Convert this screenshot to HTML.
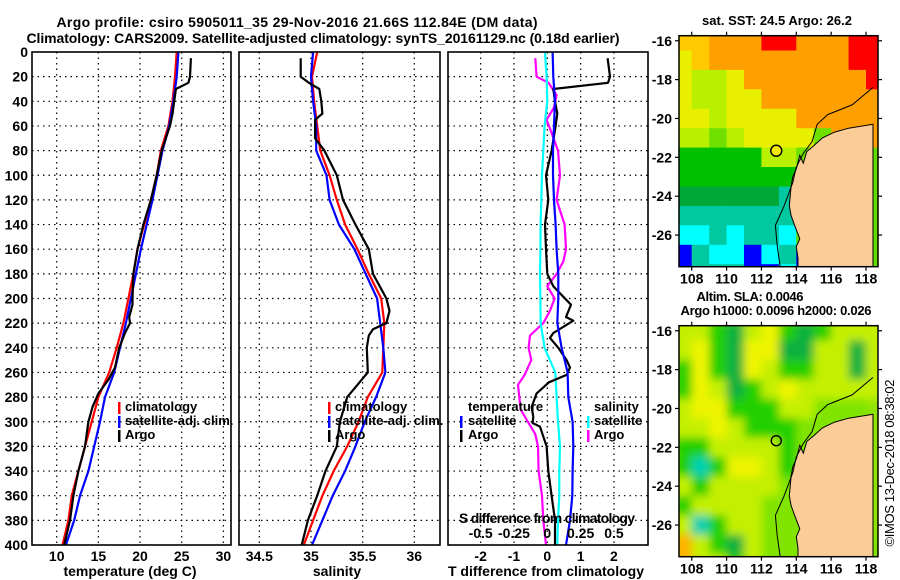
<!DOCTYPE html>
<html><head><meta charset="utf-8"><style>
html,body{margin:0;padding:0;background:#fff;}
svg{display:block;font-family:"Liberation Sans",sans-serif;font-weight:bold;}
</style></head><body>
<svg id="fig" width="900" height="580" viewBox="0 0 900 580" xmlns="http://www.w3.org/2000/svg">
<defs>
<clipPath id="c1"><rect x="679" y="35.7" width="199" height="231.3"/></clipPath>
<clipPath id="c2"><rect x="679" y="325.7" width="199" height="231"/></clipPath>
<filter id="bl" x="-5%" y="-5%" width="110%" height="110%"><feGaussianBlur stdDeviation="4.5"/></filter>
</defs>
<text x="297" y="27" text-anchor="middle" font-size="14" textLength="481">Argo profile: csiro 5905011_35 29-Nov-2016 21.66S 112.84E (DM data)</text>
<text x="323" y="43" text-anchor="middle" font-size="14" textLength="593">Climatology: CARS2009. Satellite-adjusted climatology: synTS_20161129.nc (0.18d earlier)</text>
<g id="grids"></g>
<g id="series"></g>
<g id="frames"></g>
<g id="labels" font-size="14"></g>
<g id="maps"></g>
</svg>
<script>
// ---- data ----
const depthLevels = [0,20,40,60,80,100,120,140,160,180,200,220,240,260,280,300,320,340,360,380,400];
const tClim = [24.4,24.2,23.9,23.4,22.5,22.0,21.3,20.5,19.7,19.2,18.6,18.0,17.2,16.3,15.0,14.2,13.4,12.6,11.8,11.4,10.7];
const tSat  = [24.6,24.4,24.0,23.5,22.7,22.1,21.5,20.8,20.1,19.5,18.9,18.3,17.6,16.9,15.8,15.2,14.5,13.8,12.8,12.1,11.1];
const tArgoDepth = [5,20,25,30,40,50,60,80,100,120,140,160,180,200,205,215,220,228,240,256,266,277,288,300,320,340,360,380,400];
const tArgo = [26.1,26.0,25.8,24.3,24.1,23.9,23.6,22.6,22.0,21.3,20.4,19.7,19.2,19.1,19.1,18.7,18.8,18.2,17.5,17.0,16.2,15.0,14.3,13.8,13.4,12.6,12.0,11.6,10.9];
const sClim = [35.06,35.01,35.03,35.06,35.09,35.18,35.25,35.33,35.45,35.56,35.68,35.71,35.70,35.69,35.55,35.46,35.35,35.22,35.11,35.02,34.93];
const sSat  = [35.02,35.00,35.02,35.05,35.05,35.15,35.18,35.27,35.42,35.53,35.64,35.67,35.70,35.72,35.63,35.52,35.43,35.33,35.21,35.11,35.01];
const sArgoDepth = [5,20,25,30,40,50,55,70,80,100,120,140,160,180,200,210,220,225,230,240,260,270,280,300,320,340,360,380,400];
const sArgo = [34.90,34.90,34.98,35.08,35.10,35.11,35.04,35.04,35.13,35.25,35.31,35.43,35.56,35.60,35.73,35.76,35.73,35.60,35.56,35.54,35.55,35.45,35.35,35.28,35.25,35.14,35.06,34.97,34.91];
const dTsat = [0.16,0.18,0.23,0.20,0.17,0.17,0.20,0.25,0.28,0.33,0.33,0.30,0.43,0.61,0.63,0.76,0.78,0.76,0.75,0.68,0.56];
const dSsat = [-0.017,-0.005,0,-0.02,-0.03,-0.04,-0.045,-0.05,-0.052,-0.055,-0.052,-0.05,-0.02,0.06,0.07,0.08,0.095,0.09,0.09,0.08,0.075];
const dTargoDepth = [5,20,25,30,40,50,60,80,100,120,140,160,180,190,200,205,215,218,228,232,240,250,256,262,268,277,288,296,301,304,320,340,360,380,400];
const dTargo = [1.81,1.88,1.82,0.18,0.23,0.30,0.25,0.13,-0.04,0.03,-0.07,-0.04,0.0,0.18,0.53,0.71,0.56,0.78,0.18,0.08,0.33,0.58,0.68,0.58,0.05,-0.32,-0.47,-0.42,-0.44,-0.22,-0.02,0.03,0.13,0.23,0.23];
const dSargoDepth = [5,20,25,35,45,55,65,80,100,120,140,160,170,180,190,200,210,220,230,240,250,262,270,290,301,310,320,340,360,380,400];
const dSargo = [-0.09,-0.08,0.01,0.07,0.05,-0.005,0.03,0.08,0.095,0.07,0.13,0.14,0.12,0.07,0,0.055,0.02,-0.03,-0.13,-0.14,-0.12,-0.17,-0.22,-0.2,-0.14,-0.09,-0.07,-0.065,-0.04,-0.03,-0.01];
const depthTicks = [0,20,40,60,80,100,120,140,160,180,200,220,240,260,280,300,320,340,360,380,400];
const tTicks = [10,15,20,25,30];
const sTicks = [34.5,35,35.5,36];
const dTTicks = [-2,-1,0,1,2];
const dSTicks = ["-0.5","-0.25","0","0.25","0.5"];
const lonTicks = [108,110,112,114,116,118];
const latTicks = [-16,-18,-20,-22,-24,-26];
const argoLon = 112.85, argoLat = -21.66;
// map colour grids (rows lat -15.5..; cols lon 107..118, 1 degree)
const sstGrid = [
"yyOOORROOORR","YyOOOOOOOORR","YggYOOOOOOOR","YggYYOOOOOOO","YYgYYYYOOOOO",
"gglgYYYYlOOO","GGGGGggllLLL","GGGGGGGLLLLL","DDDDDDTLLLLL","TTTTTTTLLLLL",
"CCTCTTCLLLLL","BTCCBCTBLLLL","BTTTBBCBLLLL"];
const slaGrid = [
"ggGDgYGDGggg","gYGDYYDDggDg","GYGDYgGGggDg","GYgDGgYggggg","gYYGGGgglll",
"ggYgGGGllll","GGggggGllll","GTGYYgGllll","gGgggglllll","Ggggglllll",
"gTGggllllll","OgGDglllllll","OggGglllllll"];
const colourKey = {R:"#ff0000",O:"#ffa000",y:"#ffc800",Y:"#e8f000",g:"#b8f000",l:"#70e000",L:"#60dc00",G:"#00c000",D:"#00a838",T:"#00c8a0",C:"#00ffff",B:"#0000ff"};
const slaKey = {O:"#ffb000",Y:"#eef400",g:"#c4f000",l:"#80e400",G:"#20d000",D:"#10b040",T:"#00d0b0"};
const landLon = [118.4,117,116.2,115.5,115.0,114.6,114.4,114.2,114.0,113.8,113.7,113.6,113.7,113.9,114.2,114.0,114.1,114.1,118.4];
const landLat = [-20.3,-20.5,-20.7,-21.0,-21.4,-21.7,-22.3,-21.9,-22.6,-23.0,-23.5,-24.5,-25.0,-25.5,-26.2,-26.6,-27.2,-27.8,-27.8];
const isoLon = [113.1,112.9,112.8,113.3,113.8,114.0,114.4,114.9,115.2,115.8,117.2,118.4];
const isoLat = [-27.8,-26.5,-25.5,-24.5,-23.3,-22.5,-21.8,-21.2,-20.3,-19.8,-19.3,-18.4];

// ---- axes ----
const yD = d => 52 + d*1.2325;
const xT = t => 56.7 + (t-10)*8.333;
const xS = s => 311 + (s-35)*103.3;
const xDT = d => 547.3 + d*33.33;
const xDS = d => 547.3 + d*133.33;
const mx = lon => 679 + (lon-107.27)*17.43;
const my = (lat, top) => top + (-15.74 - lat)*19.43;

const NS="http://www.w3.org/2000/svg";
function mk(tag, attrs, parent){const e=document.createElementNS(NS,tag);for(const k in attrs)e.setAttribute(k,attrs[k]);parent.appendChild(e);return e;}
const G=id=>document.getElementById(id);
const panels=[{x0:32,x1:231,n:"temperature"},{x0:239,x1:440,n:"salinity"},{x0:448,x1:648,n:"difference"}];

panels.forEach(p=>{
  depthTicks.forEach(d=>{ if(d===0||d===400)return;
    const l=mk("line",{x1:p.x0,x2:p.x1,y1:yD(d),y2:yD(d),stroke:"#000","stroke-width":1.2,"stroke-dasharray":"1.5,4"},G("grids"));
    
    
  });
});
function vgrid(vals,fx){vals.forEach(v=>{const l=mk("line",{x1:fx(v),x2:fx(v),y1:52,y2:545,stroke:"#000","stroke-width":1.2,"stroke-dasharray":"1.5,4"},G("grids"));
  
  });}
vgrid(tTicks,xT);vgrid(sTicks,xS);vgrid(dTTicks,xDT);

function line(xs,ds,fx,color,name){
  const pts=xs.map((v,i)=>fx(v).toFixed(1)+","+yD(ds[i]).toFixed(1)).join(" ");
  const pl=mk("polyline",{points:pts,fill:"none",stroke:color,"stroke-width":2.2,"stroke-linejoin":"round"},G("series"));
  
  
}
line(tClim,depthLevels,xT,"#ff0000","temperature-climatology-line");
line(tSat,depthLevels,xT,"#0000ff","temperature-satellite-line");
line(tArgo,tArgoDepth,xT,"#000","temperature-argo-line");
line(sClim,depthLevels,xS,"#ff0000","salinity-climatology-line");
line(sSat,depthLevels,xS,"#0000ff","salinity-satellite-line");
line(sArgo,sArgoDepth,xS,"#000","salinity-argo-line");
line(dSargo,dSargoDepth,xDS,"#ff00ff","s-diff-argo-line");
line(dSsat,depthLevels,xDS,"#00ffff","s-diff-satellite-line");
line(dTargo,dTargoDepth,xDT,"#000","t-diff-argo-line");
line(dTsat,depthLevels,xDT,"#0000ff","t-diff-satellite-line");

panels.forEach(p=>{const r=mk("rect",{x:p.x0,y:52,width:p.x1-p.x0,height:493,fill:"none",stroke:"#000","stroke-width":1.6},G("frames"));
  
  });

function txt(x,y,s,anchor,name,extra){const t=mk("text",Object.assign({x:x,y:y,"text-anchor":anchor||"start"},extra||{}),G("labels"));t.textContent=s;
  
  return t;}
depthTicks.forEach(d=>txt(28,yD(d)+5,String(d),"end","depth-tick-label"));
tTicks.forEach(v=>txt(xT(v),561,String(v),"middle","temperature-tick-label"));
sTicks.forEach(v=>txt(xS(v),561,String(v),"middle","salinity-tick-label"));
dTTicks.forEach(v=>txt(xDT(v),561,String(v),"middle","t-diff-tick-label"));
dSTicks.forEach(v=>txt(xDS(parseFloat(v)),538,v,"middle","s-diff-tick-label"));
txt(130,576,"temperature (deg C)","middle","temperature-axis-title");
txt(337,576,"salinity","middle","salinity-axis-title");
txt(546,576,"T difference from climatology","middle","t-diff-axis-title");
txt(547,523,"S difference from climatology","middle","s-diff-axis-title",{textLength:176});
function leg(mx0,tx,y,color,s,name){const r=mk("rect",{x:mx0,y:y-9,width:2.5,height:12,fill:color},G("labels"));
  
  
  txt(tx,y,s,"start",name,{"font-size":13});}
[[118,125],[328,335]].forEach((c,i)=>{const pre=i?"salinity":"temperature";
  leg(c[0],c[1],411,"#ff0000","climatology",pre+"-legend-climatology");
  leg(c[0],c[1],425,"#0000ff","satellite-adj. clim.",pre+"-legend-satellite");
  leg(c[0],c[1],439,"#000","Argo",pre+"-legend-argo");});
txt(468,411,"temperature","start","diff-legend-temperature-heading",{"font-size":13});
leg(460,468,425,"#0000ff","satellite","diff-legend-t-satellite");
leg(460,468,439,"#000","Argo","diff-legend-t-argo");
txt(594,411,"salinity","start","diff-legend-salinity-heading",{"font-size":13});
leg(587,594,425,"#00ffff","satellite","diff-legend-s-satellite");
leg(587,594,439,"#ff00ff","Argo","diff-legend-s-argo");

function drawMap(top,grid,key,blur,name){
  const g=mk("g",{"clip-path":top<100?"url(#c1)":"url(#c2)"},G("maps"));
  
  
  const cg=mk("g",blur?{filter:"url(#bl)"}:{},g);
  if(blur) mk("rect",{x:660,y:top-20,width:240,height:270,fill:"#90e400"},cg);
  grid.forEach((row,ri)=>{const cells=row.replace(/ /g,"");for(let ci=0;ci<cells.length;ci++){
    const lon0=107+ci, lat0=-15.5-ri;
    const x=mx(lon0),y=my(lat0,top);
    const c=mk("rect",{x:x.toFixed(1),y:y.toFixed(1),width:18,height:20,fill:key[cells[ci]]||"#80e400"},cg);
    
    }});
  const land=mk("polygon",{points:landLon.map((v,i)=>mx(v).toFixed(1)+","+my(landLat[i],top).toFixed(1)).join(" "),fill:"#fbcb98",stroke:"#000","stroke-width":1},g);
  
  
  const iso=mk("polyline",{points:isoLon.map((v,i)=>mx(v).toFixed(1)+","+my(isoLat[i],top).toFixed(1)).join(" "),fill:"none",stroke:"#000","stroke-width":1},g);
  
  
  const fr=mk("rect",{x:679,y:top,width:199,height:231,fill:"none",stroke:"#000","stroke-width":1.5},G("maps"));
  
  
  const bot=top+231;
  lonTicks.forEach(v=>{mk("line",{x1:mx(v),x2:mx(v),y1:top,y2:top-4,stroke:"#000","stroke-width":1.2},G("maps"));
    mk("line",{x1:mx(v),x2:mx(v),y1:bot,y2:bot+4,stroke:"#000","stroke-width":1.2},G("maps"));
    const t=mk("text",{x:mx(v),y:bot+17,"text-anchor":"middle","font-size":14},G("maps"));t.textContent=v;
    
    });
  latTicks.forEach(v=>{mk("line",{x1:679,x2:675,y1:my(v,top),y2:my(v,top),stroke:"#000","stroke-width":1.2},G("maps"));
    mk("line",{x1:878,x2:882,y1:my(v,top),y2:my(v,top),stroke:"#000","stroke-width":1.2},G("maps"));
    const t=mk("text",{x:672,y:my(v,top)+5,"text-anchor":"end","font-size":14},G("maps"));t.textContent=v;
    
    });
}
drawMap(35.7,sstGrid,colourKey,false,"sst-map");
drawMap(325.7,slaGrid,slaKey,true,"sla-map");
const m1=mk("circle",{cx:mx(argoLon),cy:my(argoLat,35.7),r:5.5,fill:"#f4e800",stroke:"#000","stroke-width":1.4},G("maps"));


const m2=mk("circle",{cx:mx(argoLon),cy:my(argoLat,325.7),r:5,fill:"none",stroke:"#000","stroke-width":1.4},G("maps"));


function mt(x,y,s,name,extra){const t=mk("text",Object.assign({x:x,y:y,"text-anchor":"middle","font-size":13},extra||{}),G("maps"));t.textContent=s;
  
  }
mt(777,25,"sat. SST: 24.5 Argo: 26.2","sst-map-title",{textLength:150});
mt(750,301,"Altim. SLA: 0.0046","sla-map-title",{textLength:107});
mt(776,315,"Argo h1000: 0.0096 h2000: 0.026","argo-height-label",{textLength:191});
mt(0,0,"©IMOS 13-Dec-2018 08:38:02","imos-timestamp",{transform:"translate(894,463) rotate(-90)",textLength:167,"font-weight":"normal"});
</script>
</body></html>
